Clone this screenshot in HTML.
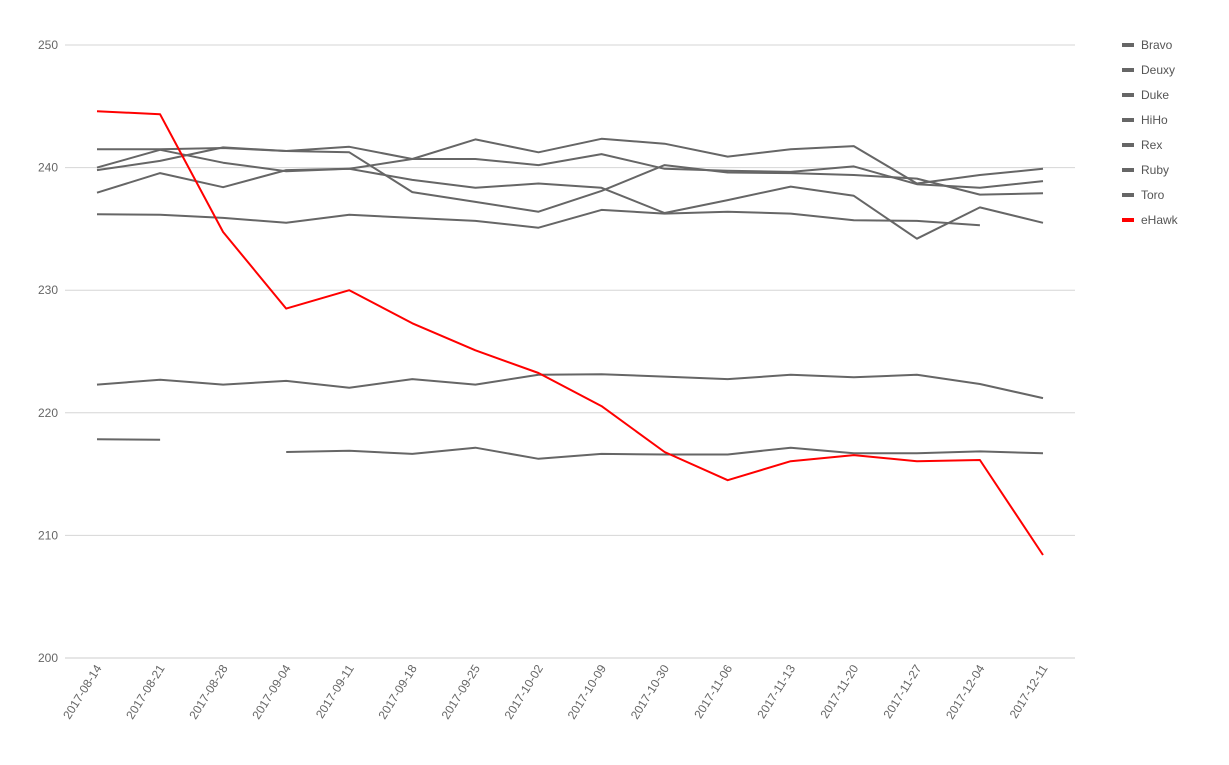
<!DOCTYPE html>
<html><head><meta charset="utf-8"><style>
body{margin:0;background:#fff;font-family:"Liberation Sans",Arial,sans-serif}
svg text{font-family:"Liberation Sans",Arial,sans-serif}
</style></head><body>
<svg id="chart" width="1229" height="760" xmlns="http://www.w3.org/2000/svg">
<g id="grid"></g>
<g id="yaxis"></g>
<g id="xaxis"></g>
<g id="series"></g>
<g id="legend"></g>
</svg>
<script>
const categories=["2017-08-14","2017-08-21","2017-08-28","2017-09-04","2017-09-11","2017-09-18","2017-09-25","2017-10-02","2017-10-09","2017-10-30","2017-11-06","2017-11-13","2017-11-20","2017-11-27","2017-12-04","2017-12-11"];
const yTicks=[200,210,220,230,240,250];
const seriesNames=["Bravo","Deuxy","Duke","HiHo","Rex","Ruby","Toro","eHawk"];
const bravo=[241.5,241.5,241.6,241.35,241.25,238.0,237.2,236.4,238.1,240.2,239.6,239.55,239.4,239.1,237.8,237.9];
const deuxy=[240.0,241.45,240.4,239.7,239.9,239.0,238.35,238.7,238.35,236.3,237.35,238.45,237.7,234.2,236.75,235.5];
const duke=[237.95,239.55,238.4,239.8,239.9,240.7,240.7,240.2,241.1,239.9,239.75,239.65,240.1,238.65,238.35,238.9];
const hiho=[239.8,240.55,241.65,241.35,241.7,240.7,242.3,241.25,242.35,241.95,240.9,241.5,241.75,238.7,239.4,239.9];
const rex=[236.2,236.15,235.9,235.5,236.15,235.9,235.65,235.1,236.55,236.25,236.4,236.25,235.7,235.65,235.3,null];
const ruby=[222.3,222.7,222.3,222.6,222.05,222.75,222.3,223.1,223.15,222.95,222.75,223.1,222.9,223.1,222.35,221.2];
const toro=[217.85,217.8,null,216.8,216.9,216.65,217.15,216.25,216.65,216.6,216.6,217.15,216.7,216.7,216.85,216.7];
const ehawk=[244.6,244.35,234.75,228.5,230.0,227.3,225.1,223.25,220.55,216.8,214.5,216.05,216.55,216.05,216.15,208.4];
const seriesValues=[bravo,deuxy,duke,hiho,rex,ruby,toro,ehawk];
const seriesColors=["#666","#666","#666","#666","#666","#666","#666","#f00"];

const NS="http://www.w3.org/2000/svg";
const x0=97,x1=1043,yTop=45,yBot=658,vMin=200,vMax=250;
function xScale(i){return x0+(x1-x0)*i/(categories.length-1);}
function yScale(v){return yBot-(v-vMin)/(vMax-vMin)*(yBot-yTop);}
function mk(tag,attrs,parent){const e=document.createElementNS(NS,tag);for(const k in attrs)e.setAttribute(k,attrs[k]);parent.appendChild(e);return e;}

const grid=document.getElementById('grid'),yaxis=document.getElementById('yaxis'),xaxis=document.getElementById('xaxis'),ser=document.getElementById('series'),leg=document.getElementById('legend');
yTicks.forEach(t=>{
  const y=yScale(t);
  const l=mk('line',{x1:65,x2:1075,y1:y,y2:y,stroke:t===200?'#ccc':'#d6d6d6','stroke-width':1},grid);
  
  
  const tx=mk('text',{x:58,y:y+4,'text-anchor':'end','font-size':12,fill:'#666'},yaxis);
  tx.textContent=t;
  
  
});
categories.forEach((c,i)=>{
  const x=xScale(i)+5,y=668;
  const tx=mk('text',{x:x,y:y,'text-anchor':'end','font-size':12,fill:'#666',transform:`rotate(-58 ${x} ${y})`},xaxis);
  tx.textContent=c;
  
  
});
seriesValues.forEach((vals,s)=>{
  let d='',pen=false;
  vals.forEach((v,i)=>{
    if(v===null){pen=false;return;}
    d+=(pen?'L':'M')+xScale(i).toFixed(1)+' '+yScale(v).toFixed(1)+' ';pen=true;
  });
  const p=mk('path',{d:d,fill:'none',stroke:seriesColors[s],'stroke-width':2,'stroke-linejoin':'round'},ser);
  
  
});
seriesNames.forEach((n,s)=>{
  const y=45+s*25;
  const g=mk('g',{},leg);
  
  
  mk('rect',{x:1122,y:y-2,width:12,height:4,fill:seriesColors[s]},g);
  const t=mk('text',{x:1141,y:y+4,'font-size':12,fill:'#555'},g);
  t.textContent=n;
});
</script>
</body></html>
